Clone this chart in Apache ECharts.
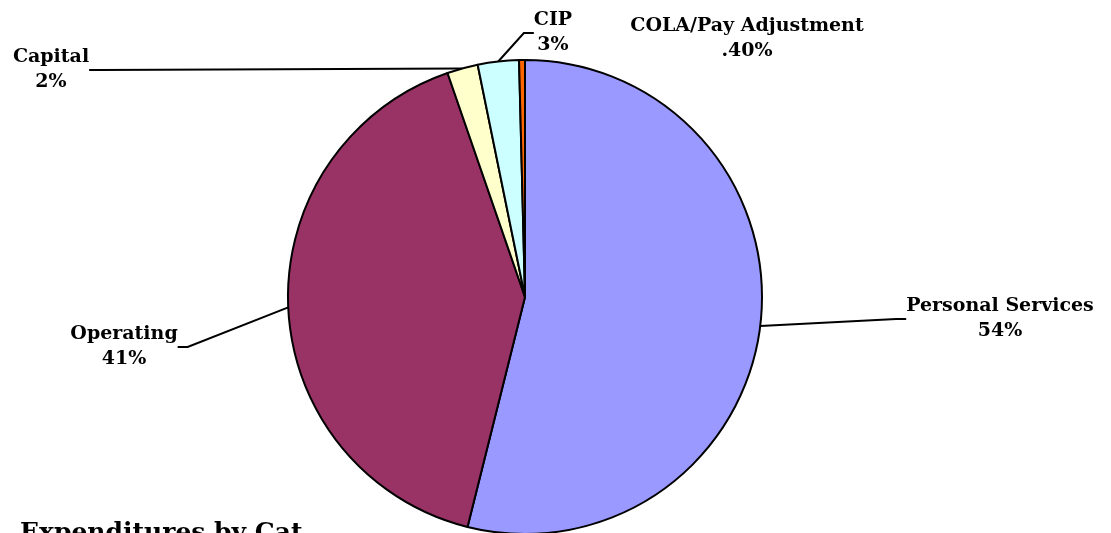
<!DOCTYPE html>
<html>
<head>
<meta charset="utf-8">
<script src="https://cdn.jsdelivr.net/npm/echarts@6/dist/echarts.min.js"></script>
<style>
  html, body { margin: 0; padding: 0; background: #fff; }
  #chart { width: 1111px; height: 533px; }
</style>
</head>
<body>
<div id="chart"></div>
<script>
// expenditure shares, clockwise from 12 o'clock
const categories = ['Personal Services', 'Operating', 'Capital', 'CIP', 'COLA/Pay Adjustment'];
const shares = [53.9, 40.8, 2.1, 2.8, 0.4];
const shareLabels = ['54%', '41%', '2%', '3%', '.40%'];
const colors = ['#9999FF', '#993366', '#FFFFCC', '#CCFFFF', '#FF6600'];

// where each label block sits (centre of the text block)
const labelSpots = [
  { x: 1000, y: 319 },
  { x: 124, y: 347 },
  { x: 51, y: 70 },
  { x: 553, y: 33 },
  { x: 747, y: 39 }
];

const chart = echarts.init(document.getElementById('chart'));

const option = {
  animation: false,
  graphic: [{
    type: 'text',
    left: 20,
    top: 521,
    style: {
      text: 'Expenditures by Category',
      width: 300,
      overflow: 'truncate',
      ellipsis: '',
      font: 'bold 25px "DejaVu Serif"',
      fill: '#000'
    }
  }],
  series: [{
    type: 'pie',
    center: [525, 297],
    radius: 237,
    startAngle: 90,
    clockwise: true,
    data: categories.map((name, i) => ({
      name: name,
      value: shares[i],
      itemStyle: { color: colors[i] },
      labelLine: { show: i !== 4 }
    })),
    itemStyle: { borderColor: '#000', borderWidth: 2 },
    label: {
      show: true,
      position: 'outside',
      formatter: (p) => p.name + '\n' + shareLabels[p.dataIndex],
      fontFamily: 'DejaVu Serif',
      fontWeight: 'bold',
      fontSize: 19,
      lineHeight: 25,
      color: '#000',
      align: 'center'
    },
    labelLine: {
      show: true,
      length: 10,
      length2: 10,
      lineStyle: { color: '#000', width: 2 }
    },
    labelLayout: (params) => {
      const s = labelSpots[params.dataIndex];
      return {
        x: s.x,
        y: s.y,
        align: 'center',
        verticalAlign: 'middle'
      };
    }
  }]
};

chart.setOption(option);
</script>
</body>
</html>
